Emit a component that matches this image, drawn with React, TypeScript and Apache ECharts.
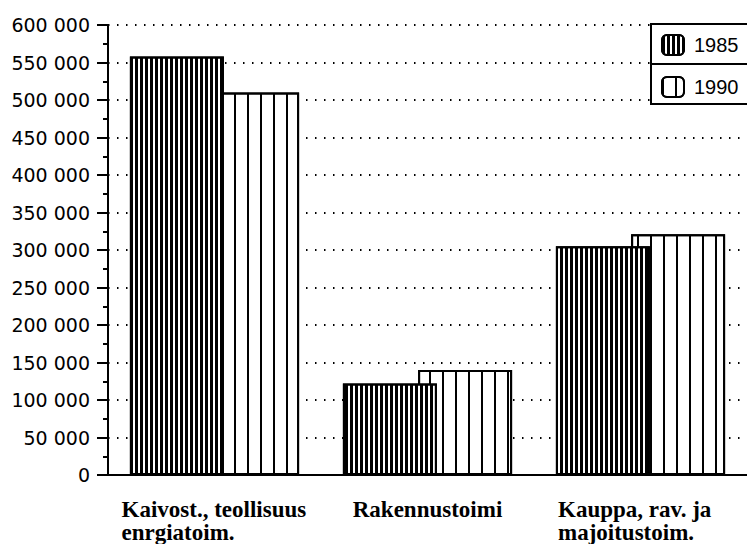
import React, { useEffect, useRef } from "react";
import * as echarts from "echarts";

const categories = ["Kaivost., teollisuus\nenrgiatoim.", "Rakennustoimi", "Kauppa, rav. ja\nmajoitustoim."];
const years = ["1985", "1990"];
const values1985 = [558000, 122000, 305000];
const values1990 = [510000, 140000, 321000];
const yMax = 600000;
const yStep = 50000;

const fmt = (v: number) => {
  if (v === 0) return "0";
  const s = String(v);
  return s.slice(0, s.length - 3) + " " + s.slice(s.length - 3);
};

export default function App() {
  const ref = useRef<HTMLDivElement>(null);
  useEffect(() => {
    if (!ref.current) return;
    const chart = echarts.init(ref.current, null, { renderer: "svg" });
    const richKeys = ["a", "b", "c"];
    const lab = { fontFamily: "Liberation Serif", fontWeight: "bold", fontSize: 23, lineHeight: 23, color: "#000" };
    chart.setOption({
      animation: false,
      backgroundColor: "#fff",
      grid: { left: 108, right: 0, top: 25, bottom: 67 },
      legend: {
        data: years,
        orient: "vertical",
        left: 661,
        top: 34,
        padding: 0,
        itemWidth: 22,
        itemHeight: 20,
        itemGap: 20,
        z: 20,
        textStyle: { fontFamily: "Liberation Sans", fontSize: 20, color: "#000", padding: [0, 0, 0, 5] },
      },
      graphic: [
        {
          type: "rect",
          z: 10,
          shape: { x: 651, y: 24, width: 130, height: 80 },
          style: { fill: "#fff", stroke: "#000", lineWidth: 2 },
        },
        {
          type: "line",
          z: 11,
          shape: { x1: 651, y1: 64, x2: 747, y2: 64 },
          style: { stroke: "#000", lineWidth: 2 },
        },
      ],
      xAxis: [
        {
          type: "category",
          data: categories,
          axisLine: { lineStyle: { color: "#000", width: 2 } },
          axisTick: { length: 12, lineStyle: { color: "#000", width: 2 } },
          axisLabel: {
            interval: 0,
            margin: 23,
            ...lab,
            formatter: (v: string, i: number) =>
              v
                .split("\n")
                .map((l) => `{${richKeys[i]}|${l}}`)
                .join("\n"),
            rich: {
              a: { width: 186, align: "left", ...lab },
              b: { ...lab },
              c: { width: 165, align: "left", ...lab },
            },
          },
        },
        {
          type: "category",
          data: categories,
          position: "bottom",
          axisLine: { show: false },
          axisTick: { alignWithLabel: true, length: 12, lineStyle: { color: "#000", width: 2 } },
          axisLabel: { show: false },
        },
      ],
      yAxis: {
        type: "value",
        min: 0,
        max: yMax,
        interval: yStep,
        axisLine: { show: true, lineStyle: { color: "#000", width: 2 } },
        axisTick: { show: true, length: 11, lineStyle: { color: "#000", width: 2 } },
        minorTick: { show: true, splitNumber: 2, length: 5, lineStyle: { color: "#000", width: 2 } },
        splitLine: { show: true, lineStyle: { color: "#000", width: 2, type: [1.5, 7.5] } },
        axisLabel: {
          margin: 18,
          color: "#000",
          fontFamily: "DejaVu Sans",
          fontSize: 19,
          formatter: (v: number) => fmt(v),
        },
      },
      series: [
        {
          name: "1985",
          type: "bar",
          data: values1985,
          barWidth: 94,
          barGap: "-20%",
          z: 3,
          itemStyle: {
            color: "#fff",
            borderColor: "#000",
            borderWidth: 2,
            decal: { symbol: "rect", symbolSize: 1, color: "#000", dashArrayX: [2.4, 1.6], dashArrayY: [8, 0], rotation: 0 },
          },
        },
        {
          name: "1990",
          type: "bar",
          data: values1990,
          barWidth: 94,
          barGap: "-20%",
          z: 2,
          itemStyle: {
            color: "#fff",
            borderColor: "#000",
            borderWidth: 2,
            decal: { symbol: "rect", symbolSize: 1, color: "#000", dashArrayX: [2, 10.4], dashArrayY: [8, 0], rotation: 0 },
          },
        },
      ],
    });
    return () => chart.dispose();
  }, []);
  return <div ref={ref} style={{ position: "fixed", left: 0, top: 0, width: 747, height: 544 }} />;
}
